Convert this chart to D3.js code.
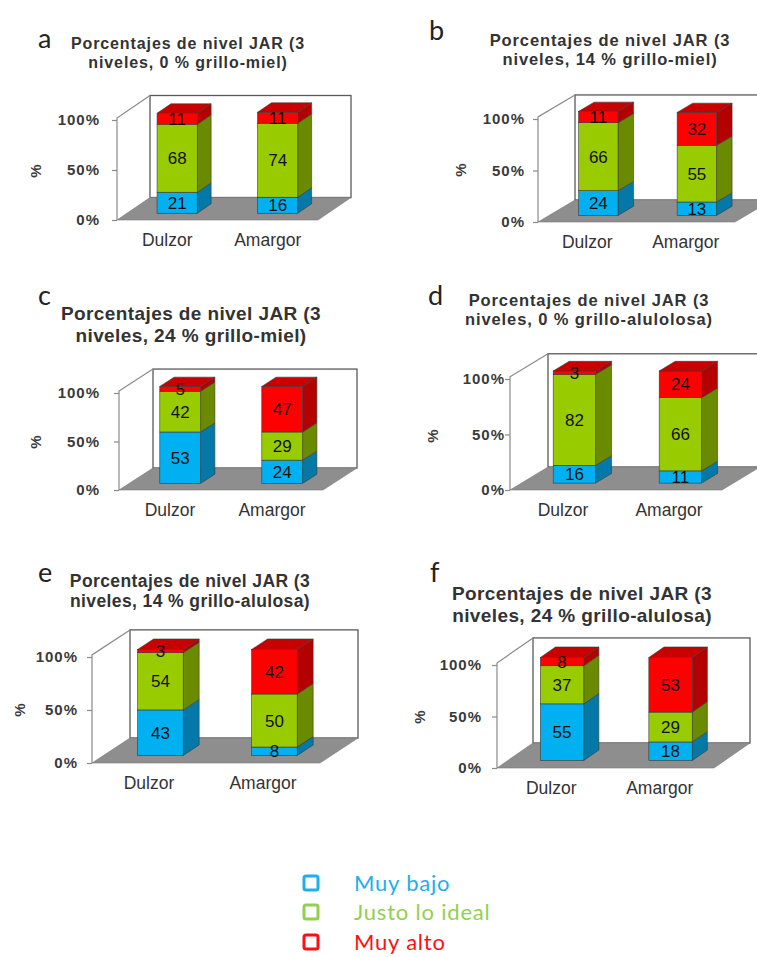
<!DOCTYPE html>
<html>
<head>
<meta charset="utf-8">
<script src="https://cdn.jsdelivr.net/npm/d3@7"></script>
<style>
  body { margin: 0; background: #fff; }
  svg { display: block; }
</style>
</head>
<body>
<svg id="chart" width="757" height="957"></svg>
<script>
// ---- data ----
const categories = ["Dulzor", "Amargor"];
const seriesNames = ["Muy bajo", "Justo lo ideal", "Muy alto"];
const panelLetters = ["a", "b", "c", "d", "e", "f"];
const titleLine1 = [
  "Porcentajes de nivel JAR (3",
  "Porcentajes de nivel JAR (3",
  "Porcentajes de nivel JAR (3",
  "Porcentajes de nivel JAR (3",
  "Porcentajes de nivel JAR (3",
  "Porcentajes de nivel JAR (3"
];
const titleLine2 = [
  "niveles, 0 % grillo-miel)",
  "niveles, 14 % grillo-miel)",
  "niveles, 24 % grillo-miel)",
  "niveles, 0 % grillo-alulolosa)",
  "niveles, 14 % grillo-alulosa)",
  "niveles, 24 % grillo-alulosa)"
];
// values per panel: [Dulzor, Amargor]
const muyBajo    = [[21, 16], [24, 13], [53, 24], [16, 11], [43, 8],  [55, 18]];
const justoIdeal = [[68, 74], [66, 55], [42, 29], [82, 66], [54, 50], [37, 29]];
const muyAlto    = [[11, 11], [11, 32], [5, 47],  [3, 24],  [3, 42],  [8, 53]];
const tickValues = [0, 50, 100];
const axisTitle = "%";

// ---- layout of each small chart ----
const panelLayout = [
  { x0: 117, y0: 220, H: 100, W: 201, dx: 33, dy: -22.5, lx: 38,  ly: 48,  tcx: 188, t1: 49,  t2: 67.5, ts: 16,   ls: 0.9, px: 36,  py: 171, pad: 12 },
  { x0: 538, y0: 222, H: 103, W: 197, dx: 37, dy: -22,   lx: 429, ly: 40,  tcx: 610, t1: 46,  t2: 65,   ts: 16.5, ls: 0.9, px: 461, py: 170, pad: 8 },
  { x0: 119, y0: 490, H: 97,  W: 204, dx: 34, dy: -22,   lx: 38,  ly: 305, tcx: 191, t1: 320, t2: 342,  ts: 19,   ls: 0.4, px: 36,  py: 442, pad: 14 },
  { x0: 510, y0: 490, H: 111, W: 212, dx: 38, dy: -23,   lx: 428, ly: 305, tcx: 589, t1: 306, t2: 325,  ts: 16.5, ls: 0.9, px: 433, py: 436, pad: 0 },
  { x0: 92,  y0: 763, H: 106, W: 228, dx: 38, dy: -25,   lx: 38,  ly: 582, tcx: 190, t1: 587, t2: 607,  ts: 17.5, ls: 0.4, px: 20,  py: 710, pad: 9 },
  { x0: 497, y0: 768, H: 103, W: 217, dx: 36, dy: -25,   lx: 430, ly: 582, tcx: 582, t1: 600, t2: 622,  ts: 19,   ls: 0.4, px: 420, py: 717, pad: 10 }
];

// face colours per series: front, side, top
const faceColors = {
  "Muy bajo":       { front: "#00B0F0", side: "#0479A8", top: "#0092CC" },
  "Justo lo ideal": { front: "#99CC00", side: "#6A8A00", top: "#7FAA00" },
  "Muy alto":       { front: "#FF0000", side: "#B30000", top: "#C80000" }
};
const legendColors = { "Muy bajo": "#1CB0EC", "Justo lo ideal": "#92D050", "Muy alto": "#FF1010" };

const svg = d3.select("#chart");
const depthFront = 0.3, depthBack = 0.72;

panelLetters.forEach((letter, p) => {
  const L = panelLayout[p];
  const g = svg.append("g");

  const y = d3.scaleLinear().domain([0, 100]).range([L.y0, L.y0 - L.H]);
  const x = d3.scaleBand().domain(categories).range([L.x0, L.x0 + L.W])
    .paddingInner(0.6).paddingOuter(0.3);

  const wallTop = y(102);
  const bx = L.dx, by = L.dy;

  // back wall
  g.append("rect")
    .attr("x", L.x0 + bx).attr("y", wallTop + by)
    .attr("width", L.W).attr("height", L.y0 - wallTop)
    .attr("fill", "#fff").attr("stroke", "#5a5a5a").attr("stroke-width", 1.3);
  // side wall
  g.append("path")
    .attr("d", `M${L.x0},${L.y0}L${L.x0},${wallTop}L${L.x0 + bx},${wallTop + by}`)
    .attr("fill", "none").attr("stroke", "#8a8a8a").attr("stroke-width", 1.2);
  // floor
  g.append("path")
    .attr("d", `M${L.x0},${L.y0}L${L.x0 + L.W},${L.y0}L${L.x0 + L.W + bx},${L.y0 + by}L${L.x0 + bx},${L.y0 + by}Z`)
    .attr("fill", "#8e8e8e").attr("stroke", "#7a7a7a").attr("stroke-width", 0.6);

  // value axis
  const axis = d3.axisLeft(y).tickValues(tickValues).tickFormat(d => d + "%")
    .tickSize(5).tickPadding(L.pad);
  const ag = g.append("g").attr("transform", `translate(${L.x0},0)`).call(axis);
  ag.select(".domain").remove();
  ag.selectAll(".tick line").attr("stroke", "#8a8a8a").attr("stroke-width", 1.2);
  ag.selectAll(".tick text")
    .attr("fill", "#3a3a3a").style("font-family", "Liberation Sans, Arial, sans-serif")
    .style("font-size", "15px").style("font-weight", "bold").style("letter-spacing", "1px");

  // axis title
  g.append("text")
    .attr("transform", `translate(${L.px},${L.py}) rotate(-90)`)
    .attr("text-anchor", "middle").attr("dy", "0.35em")
    .attr("fill", "#3a3a3a").style("font-family", "Liberation Sans, Arial, sans-serif")
    .style("font-size", "15px").style("font-weight", "bold")
    .text(axisTitle);

  // category labels
  categories.forEach(c => {
    g.append("text")
      .attr("x", x(c) + x.bandwidth() / 2).attr("y", L.y0 + 26)
      .attr("text-anchor", "middle").attr("fill", "#333")
      .style("font-family", "Liberation Sans, Arial, sans-serif").style("font-size", "17.5px")
      .text(c);
  });

  // stacked 3D bars
  const rows = categories.map((c, i) => ({
    cat: c,
    "Muy bajo": muyBajo[p][i],
    "Justo lo ideal": justoIdeal[p][i],
    "Muy alto": muyAlto[p][i]
  }));
  const stacked = d3.stack().keys(seriesNames)(rows);
  const fdx = bx * depthFront, fdy = by * depthFront;
  const sdx = bx * (depthBack - depthFront), sdy = by * (depthBack - depthFront);
  const bw = x.bandwidth();

  categories.forEach((c, i) => {
    const bar = g.append("g");
    const xl = x(c) + fdx, xr = xl + bw;
    stacked.forEach((layer, k) => {
      const seg = layer[i];
      const col = faceColors[layer.key];
      const yt = y(seg[1]) + fdy, yb = y(seg[0]) + fdy;
      // side face
      bar.append("path")
        .attr("d", `M${xr},${yt}L${xr + sdx},${yt + sdy}L${xr + sdx},${yb + sdy}L${xr},${yb}Z`)
        .attr("fill", col.side).attr("stroke", "#3a3a3a").attr("stroke-width", 0.6);
      // front face
      bar.append("rect")
        .attr("x", xl).attr("y", yt).attr("width", bw).attr("height", yb - yt)
        .attr("fill", col.front).attr("stroke", "#3a3a3a").attr("stroke-width", 0.6);
      // top face of the uppermost segment
      if (k === stacked.length - 1) {
        bar.append("path")
          .attr("d", `M${xl},${yt}L${xr},${yt}L${xr + sdx},${yt + sdy}L${xl + sdx},${yt + sdy}Z`)
          .attr("fill", col.top).attr("stroke", "#3a3a3a").attr("stroke-width", 0.6);
      }
    });
    // value labels on the front faces
    stacked.forEach(layer => {
      const seg = layer[i];
      const yc = (y(seg[0]) + y(seg[1])) / 2 + fdy;
      bar.append("text")
        .attr("x", xl + bw / 2).attr("y", yc).attr("dy", "0.36em")
        .attr("text-anchor", "middle").attr("fill", "#111")
        .style("font-family", "Liberation Sans, Arial, sans-serif").style("font-size", "17px")
        .text(seg.data[layer.key]);
    });
  });

  // panel letter
  g.append("text")
    .attr("x", L.lx).attr("y", L.ly).attr("fill", "#222")
    .style("font-family", "Lato, sans-serif").style("font-size", "27px")
    .text(letter);

  // title
  const title = g.append("text")
    .attr("text-anchor", "middle").attr("fill", "#333")
    .style("font-family", "Liberation Sans, Arial, sans-serif")
    .style("font-size", L.ts + "px").style("font-weight", "bold").style("letter-spacing", L.ls + "px");
  title.append("tspan").attr("x", L.tcx).attr("y", L.t1).text(titleLine1[p]);
  title.append("tspan").attr("x", L.tcx).attr("y", L.t2).text(titleLine2[p]);
});

// legend
const legend = svg.append("g").attr("transform", "translate(304,0)");
const legendY = [883, 912, 942];
seriesNames.forEach((s, i) => {
  legend.append("rect")
    .attr("x", 0).attr("y", legendY[i] - 7).attr("width", 14).attr("height", 14)
    .attr("rx", 2).attr("fill", "none")
    .attr("stroke", legendColors[s]).attr("stroke-width", 3);
  legend.append("text")
    .attr("x", 50).attr("y", legendY[i]).attr("dy", "0.36em")
    .attr("fill", legendColors[s])
    .style("font-family", "Lato, sans-serif").style("font-size", "22px").style("letter-spacing", "0.8px")
    .text(s);
});
</script>
</body>
</html>
